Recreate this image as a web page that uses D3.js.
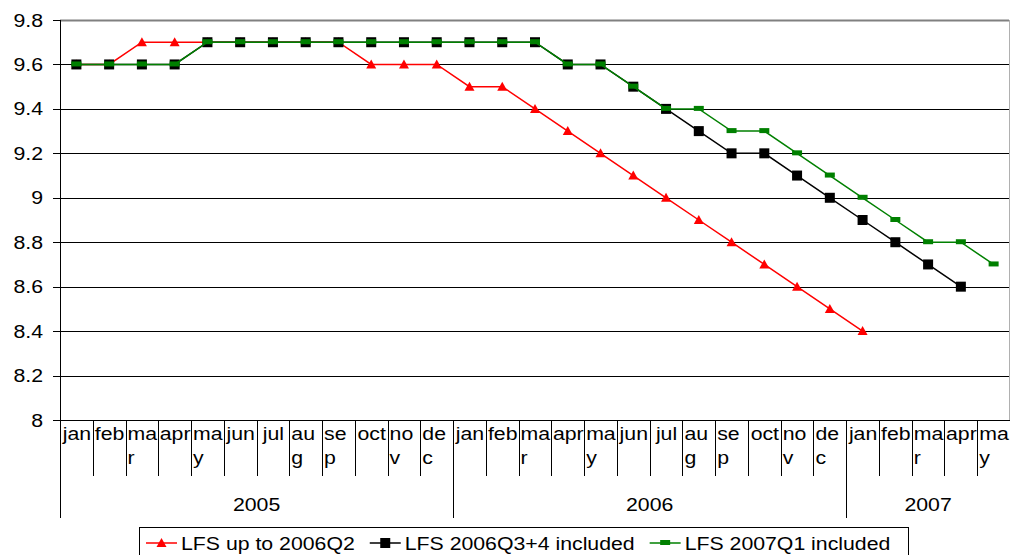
<!DOCTYPE html>
<meta charset="utf-8">
<html>
<head>
<style>
  body { margin: 0; background: #fff; }
  text { font-family: "Liberation Sans", Arial, sans-serif; fill: #000; }
</style>
</head>
<body>
<div id="chart"></div>
<script src="https://cdn.jsdelivr.net/npm/d3@7"></script>
<script>

var width = 1010,
    height = 555;

// data
var monthLabels = ["jan","feb","mar","apr","may","jun","jul","aug","sep","oct","nov","dec",
                   "jan","feb","mar","apr","may","jun","jul","aug","sep","oct","nov","dec",
                   "jan","feb","mar","apr","may"];
var yearLabels = ["2005", "2006", "2007"];
var yearMonthCounts = [12, 12, 5];
var yTicks = [8, 8.2, 8.4, 8.6, 8.8, 9, 9.2, 9.4, 9.6, 9.8];

var lfsUpTo2006Q2 = [9.6, 9.6, 9.7, 9.7, 9.7, 9.7, 9.7, 9.7, 9.7, 9.6, 9.6, 9.6,
                     9.5, 9.5, 9.4, 9.3, 9.2, 9.1, 9.0, 8.9, 8.8, 8.7, 8.6, 8.5,
                     8.4];
var lfs2006Q34 = [9.6, 9.6, 9.6, 9.6, 9.7, 9.7, 9.7, 9.7, 9.7, 9.7, 9.7, 9.7,
                  9.7, 9.7, 9.7, 9.6, 9.6, 9.5, 9.4, 9.3, 9.2, 9.2, 9.1, 9.0,
                  8.9, 8.8, 8.7, 8.6];
var lfs2007Q1 = [9.6, 9.6, 9.6, 9.6, 9.7, 9.7, 9.7, 9.7, 9.7, 9.7, 9.7, 9.7,
                 9.7, 9.7, 9.7, 9.6, 9.6, 9.5, 9.4, 9.4, 9.3, 9.3, 9.2, 9.1,
                 9.0, 8.9, 8.8, 8.8, 8.7];

var seriesNames = ["LFS up to 2006Q2", "LFS 2006Q3+4 included", "LFS 2007Q1 included"];

var series = [
  {name: seriesNames[0], values: lfsUpTo2006Q2, color: "#ff0000", marker: "triangle"},
  {name: seriesNames[1], values: lfs2006Q34, color: "#000000", marker: "square"},
  {name: seriesNames[2], values: lfs2007Q1, color: "#008000", marker: "dash"}
];

var fontSize = 18.5,
    stretch = 1.15;   // text in the picture is a bit wide

var plotLeft = 60, plotRight = 1010, plotTop = 20, plotBottom = 420;

var svg = d3.select("#chart").append("svg")
    .attr("width", width)
    .attr("height", height);

var x = d3.scaleBand()
    .domain(d3.range(monthLabels.length))
    .range([plotLeft, plotRight])
    .padding(0);

var y = d3.scaleLinear()
    .domain([8, 9.8])
    .range([plotBottom, plotTop]);

function crisp(v) { return Math.round(v) + 0.5; }

// plot area border
svg.append("rect")
    .attr("x", plotLeft + 0.5)
    .attr("y", plotTop + 0.5)
    .attr("width", plotRight - plotLeft - 1)
    .attr("height", plotBottom - plotTop)
    .attr("fill", "none")
    .attr("stroke", "#b0b0b0");

// gridlines
svg.selectAll("line.grid")
    .data(yTicks)
    .enter().append("line")
    .attr("class", "grid")
    .attr("x1", plotLeft)
    .attr("x2", plotRight - 1)
    .attr("y1", function(d) { return crisp(y(d)); })
    .attr("y2", function(d) { return crisp(y(d)); })
    .attr("stroke", function(d) { return d == 9.8 ? "#808080" : "#000"; })
    .attr("stroke-width", function(d) { return d == 9.8 ? 2 : 1; });

// y axis line + ticks
svg.append("line")
    .attr("x1", crisp(plotLeft)).attr("x2", crisp(plotLeft))
    .attr("y1", plotTop).attr("y2", plotBottom)
    .attr("stroke", "#000");

svg.selectAll("line.ytick")
    .data(yTicks)
    .enter().append("line")
    .attr("class", "ytick")
    .attr("x1", plotLeft - 7).attr("x2", plotLeft)
    .attr("y1", function(d) { return crisp(y(d)); })
    .attr("y2", function(d) { return crisp(y(d)); })
    .attr("stroke", "#000");

svg.selectAll("g.ylabel")
    .data(yTicks)
    .enter().append("g")
    .attr("class", "ylabel")
    .attr("transform", function(d) { return "translate(" + 43 + "," + (y(d) + 6.5) + ") scale(" + stretch + ",1)"; })
    .append("text")
    .attr("text-anchor", "end")
    .attr("font-size", fontSize)
    .text(function(d) { return d3.format("")(+d.toFixed(1)); });

// month separators
var bw = x.bandwidth();
var bounds = d3.range(monthLabels.length + 1);
var yearStarts = [0];
yearMonthCounts.forEach(function(n, i) { yearStarts.push(yearStarts[i] + n); });

svg.selectAll("line.msep")
    .data(bounds)
    .enter().append("line")
    .attr("class", "msep")
    .attr("x1", function(i) { return crisp(plotLeft + i * bw); })
    .attr("x2", function(i) { return crisp(plotLeft + i * bw); })
    .attr("y1", plotBottom)
    .attr("y2", function(i) { return yearStarts.indexOf(i) >= 0 ? 518 : 476; })
    .attr("stroke", "#000");

// x axis line
svg.append("line")
    .attr("x1", plotLeft).attr("x2", plotRight)
    .attr("y1", crisp(plotBottom)).attr("y2", crisp(plotBottom))
    .attr("stroke", "#000");

// month labels (Excel wraps the wide ones after two letters)
var measure = svg.append("text").attr("font-size", fontSize);
monthLabels.forEach(function(m, i) {
  measure.text(m);
  var w = measure.node().getComputedTextLength() * stretch;
  var x0 = x(i);
  if (w <= bw) {
    svg.append("g")
        .attr("transform", "translate(" + (x0 + bw / 2 + 0.5) + ",440) scale(" + stretch + ",1)")
        .append("text")
        .attr("text-anchor", "middle")
        .attr("font-size", fontSize)
        .text(m);
  } else {
    var lines = [m.slice(0, 2), m.slice(2)];
    lines.forEach(function(t, k) {
      svg.append("g")
          .attr("transform", "translate(" + (x0 + 2) + "," + (440 + k * 24) + ") scale(" + stretch + ",1)")
          .append("text")
          .attr("font-size", fontSize)
          .text(t);
    });
  }
});
measure.remove();

// year labels
yearLabels.forEach(function(yr, i) {
  var a = plotLeft + yearStarts[i] * bw,
      b = Math.min(plotRight, plotLeft + yearStarts[i + 1] * bw);
  svg.append("g")
      .attr("transform", "translate(" + ((a + b) / 2) + ",511) scale(" + stretch + ",1)")
      .append("text")
      .attr("text-anchor", "middle")
      .attr("font-size", fontSize)
      .text(yr);
});

// markers
function drawMarker(g, type, cx, cy, color) {
  if (type == "triangle") {
    g.append("path")
        .attr("d", "M" + cx + "," + (cy - 5) + "L" + (cx + 5) + "," + (cy + 4) + "L" + (cx - 5) + "," + (cy + 4) + "Z")
        .attr("fill", color);
  } else if (type == "square") {
    g.append("rect")
        .attr("x", cx - 5).attr("y", cy - 5)
        .attr("width", 10).attr("height", 10)
        .attr("fill", color);
  } else {
    g.append("rect")
        .attr("x", cx - 5).attr("y", cy - 3)
        .attr("width", 10).attr("height", 5)
        .attr("fill", color);
  }
}

var line = d3.line()
    .x(function(d, i) { return x(i) + bw / 2; })
    .y(function(d) { return y(d); });

series.forEach(function(s) {
  var g = svg.append("g");
  g.append("path")
      .datum(s.values)
      .attr("d", line)
      .attr("fill", "none")
      .attr("stroke", s.color)
      .attr("stroke-width", 1.5);
  s.values.forEach(function(v, i) {
    drawMarker(g, s.marker, x(i) + bw / 2, y(v), s.color);
  });
});

// legend
var legend = svg.append("g");
legend.append("rect")
    .attr("x", 139.5).attr("y", 527.5)
    .attr("width", 769).attr("height", 40)
    .attr("fill", "#fff")
    .attr("stroke", "#000");

var lx = 146;
series.forEach(function(s) {
  legend.append("line")
      .attr("x1", lx).attr("x2", lx + 31)
      .attr("y1", 543).attr("y2", 543)
      .attr("stroke", s.color)
      .attr("stroke-width", 1.5);
  drawMarker(legend, s.marker, lx + 15.5, 543, s.color);
  var t = legend.append("g")
      .attr("transform", "translate(" + (lx + 35) + ",550) scale(" + stretch + ",1)")
      .append("text")
      .attr("font-size", fontSize)
      .text(s.name);
  lx = lx + 35 + t.node().getComputedTextLength() * stretch + 15;
});

</script>
</body>
</html>
